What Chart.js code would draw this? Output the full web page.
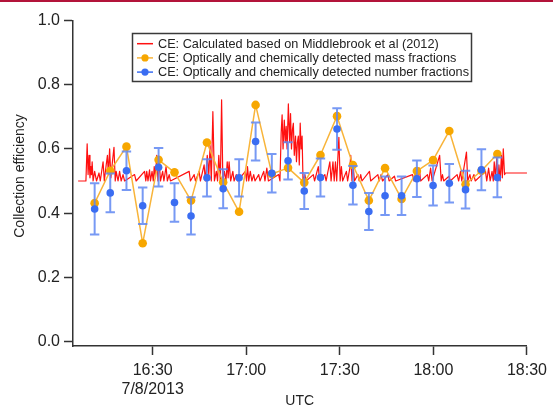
<!DOCTYPE html>
<html>
<head>
<meta charset="utf-8">
<script src="https://cdn.jsdelivr.net/npm/chart.js@4/dist/chart.umd.min.js"></script>
<style>
  html, body { margin:0; padding:0; background:#fff; }
  #wrap { position:relative; width:553px; height:406px; overflow:hidden; }
  #topRule { position:absolute; left:0; top:0; width:553px; height:2px; background:#b3143a; }
  #ce { position:absolute; left:0; top:0; }
</style>
</head>
<body>
<div id="wrap">
  <canvas id="ce" width="553" height="406"></canvas>
  <div id="topRule"></div>
</div>
<script>
// times are minutes after midnight UTC, 7/8/2013
const xTicks = [990, 1020, 1050, 1080, 1110];
const yTicks = [0, 0.2, 0.4, 0.6, 0.8, 1.0];

// CE calculated from Middlebrook et al (2012), high-rate trace
const redMinutes = [
  966.1, 968.6, 969.0, 969.3, 969.6, 969.9, 970.2, 970.4, 970.6, 970.9,
  971.4, 972.0, 972.8, 973.2, 974.1, 974.5, 975.1, 975.5, 975.8, 976.2,
  976.6, 977.1, 977.6, 978.0, 978.3, 978.9, 979.4, 979.9, 980.5, 981.0,
  984.2, 984.7, 987.4, 987.8, 988.1, 988.5, 989.0, 989.3, 989.8, 990.2,
  990.5, 990.9, 991.3, 991.7, 992.1, 992.5, 993.2, 993.6, 994.3, 994.7,
  995.3, 995.7, 1001.7, 1002.1, 1003.3, 1003.7, 1004.9, 1005.3, 1006.5, 1006.9,
  1007.5, 1008.0, 1008.4, 1008.8, 1009.3, 1009.8, 1010.4, 1010.8, 1011.2, 1011.7,
  1012.1, 1012.5, 1013.0, 1013.5, 1013.9, 1014.2, 1014.5, 1015.0, 1015.7, 1016.1,
  1016.8, 1017.2, 1019.7, 1020.1, 1020.4, 1020.8, 1021.3, 1021.8, 1022.4, 1022.8,
  1024.0, 1024.4, 1025.6, 1026.0, 1026.6, 1027.1, 1030.4, 1030.8, 1031.2, 1031.5,
  1031.8, 1032.2, 1032.5, 1032.8, 1033.1, 1033.5, 1033.9, 1034.2, 1034.5, 1034.8,
  1035.1, 1035.4, 1035.8, 1036.1, 1036.4, 1036.7, 1037.0, 1037.3, 1037.6, 1037.9,
  1038.2, 1038.8, 1039.2, 1041.5, 1041.9, 1043.1, 1043.5, 1045.2, 1045.6, 1046.8,
  1047.2, 1047.8, 1048.2, 1048.6, 1049.0, 1049.7, 1050.1, 1050.5, 1050.9, 1052.1,
  1052.5, 1053.2, 1053.5, 1053.9, 1054.3, 1054.7, 1055.8, 1056.2, 1056.7, 1057.1,
  1059.5, 1059.9, 1062.2, 1062.6, 1063.2, 1063.7, 1065.4, 1065.8, 1067.5, 1067.9,
  1073.3, 1073.8, 1074.4, 1074.8, 1075.5, 1075.9, 1078.1, 1078.5, 1079.1, 1079.6,
  1082.0, 1082.5, 1082.9, 1083.3, 1085.0, 1085.4, 1087.6, 1088.1, 1088.7, 1089.1,
  1090.6, 1091.0, 1091.7, 1092.1, 1093.0, 1093.4, 1096.7, 1097.1, 1097.7, 1098.2,
  1098.8, 1099.2, 1099.5, 1099.9, 1100.3, 1100.7, 1101.0, 1101.4, 1101.8, 1102.1,
  1102.4, 1102.8, 1103.1, 1110.0
];
const redCE = [
  0.5, 0.5, 0.616, 0.52, 0.58, 0.51, 0.545, 0.52, 0.56, 0.5,
  0.53, 0.5, 0.525, 0.5, 0.56, 0.5, 0.55, 0.58, 0.52, 0.6,
  0.51, 0.56, 0.605, 0.5, 0.53, 0.5, 0.53, 0.5, 0.52, 0.5,
  0.52, 0.5, 0.53, 0.5, 0.53, 0.5, 0.535, 0.5, 0.53, 0.5,
  0.545, 0.51, 0.58, 0.5, 0.56, 0.5, 0.53, 0.5, 0.545, 0.5,
  0.52, 0.5, 0.53, 0.5, 0.52, 0.5, 0.53, 0.5, 0.55, 0.5,
  0.58, 0.52, 0.61, 0.5, 0.716, 0.5, 0.53, 0.5, 0.58, 0.5,
  0.753, 0.5, 0.53, 0.5, 0.56, 0.51, 0.56, 0.5, 0.53, 0.5,
  0.52, 0.5, 0.53, 0.5, 0.545, 0.5, 0.53, 0.5, 0.52, 0.5,
  0.52, 0.5, 0.53, 0.5, 0.54, 0.5, 0.52, 0.5, 0.65, 0.706,
  0.6, 0.69, 0.62, 0.67, 0.6, 0.74, 0.62, 0.71, 0.6, 0.66,
  0.68, 0.58, 0.64, 0.56, 0.62, 0.64, 0.55, 0.68, 0.6, 0.64,
  0.5, 0.52, 0.5, 0.52, 0.5, 0.545, 0.5, 0.52, 0.5, 0.56,
  0.5, 0.56, 0.5, 0.56, 0.5, 0.636, 0.5, 0.545, 0.5, 0.53,
  0.5, 0.54, 0.58, 0.5, 0.545, 0.5, 0.52, 0.5, 0.52, 0.5,
  0.53, 0.5, 0.52, 0.5, 0.52, 0.5, 0.52, 0.5, 0.515, 0.5,
  0.52, 0.5, 0.53, 0.5, 0.54, 0.5, 0.52, 0.5, 0.54, 0.5,
  0.58, 0.5, 0.52, 0.5, 0.515, 0.5, 0.52, 0.5, 0.53, 0.5,
  0.59, 0.5, 0.52, 0.5, 0.52, 0.5, 0.53, 0.5, 0.54, 0.5,
  0.53, 0.5, 0.56, 0.51, 0.57, 0.5, 0.55, 0.5, 0.58, 0.51,
  0.6, 0.52, 0.525, 0.525
];

// optically + chemically detected samples
const sampleMinutes = [
  971.4, 976.4, 981.6, 986.8, 991.9, 997.0, 1002.3, 1007.4, 1012.6, 1017.7,
  1023.0, 1028.2, 1033.4, 1038.6, 1043.8, 1049.1, 1054.2, 1059.3, 1064.5, 1069.8,
  1074.7, 1079.9, 1085.1, 1090.3, 1095.4, 1100.5
];
const massCE = [
  0.431, 0.532, 0.607, 0.306, 0.566, 0.527, 0.439, 0.620, 0.496, 0.404,
  0.737, 0.522, 0.541, 0.495, 0.581, 0.702, 0.550, 0.439, 0.540, 0.444,
  0.531, 0.565, 0.656, 0.490, 0.532, 0.584
];
const numberCE = [
  0.413, 0.463, 0.532, 0.423, 0.543, 0.433, 0.391, 0.510, 0.476, 0.510,
  0.623, 0.524, 0.563, 0.469, 0.511, 0.662, 0.487, 0.405, 0.454, 0.454,
  0.507, 0.486, 0.493, 0.473, 0.535, 0.511
];
const numberErr = [
  0.080, 0.060, 0.060, 0.057, 0.060, 0.060, 0.058, 0.058, 0.061, 0.058,
  0.059, 0.060, 0.058, 0.056, 0.059, 0.065, 0.060, 0.058, 0.060, 0.060,
  0.057, 0.062, 0.060, 0.059, 0.064, 0.062
];

const seriesNames = [
  'CE: Calculated based on Middlebrook et al (2012)',
  'CE: Optically and chemically detected mass fractions',
  'CE: Optically and chemically detected number fractions'
];

const RED = '#ff1010', ORANGE = '#f7a700', ORANGE_LINE = '#f8b43a', BLUE = '#3a6df2', ERR = 'rgba(95,135,242,0.85)';
const AXIS = '#333';
const FONT = "'Liberation Sans', Arial, Helvetica, sans-serif";
Chart.defaults.font.family = FONT;

function hhmm(m){
  const h = Math.floor(m/60), mm = Math.round(m - h*60);
  return h + ':' + String(mm).padStart(2,'0');
}

// vertical error bars on the number-fraction points
const errorBars = {
  id:'errorBars',
  beforeDatasetDraw(chart, args){
    if(args.index !== 2) return;
    const {ctx, scales:{x, y}} = chart;
    ctx.save();
    ctx.strokeStyle = ERR; ctx.lineWidth = 2;
    sampleMinutes.forEach((t,i)=>{
      const px = x.getPixelForValue(t);
      const hi = y.getPixelForValue(numberCE[i] + numberErr[i]);
      const lo = y.getPixelForValue(numberCE[i] - numberErr[i]);
      ctx.beginPath();
      ctx.moveTo(px, hi); ctx.lineTo(px, lo);
      ctx.moveTo(px-4.7, hi); ctx.lineTo(px+4.7, hi);
      ctx.moveTo(px-4.7, lo); ctx.lineTo(px+4.7, lo);
      ctx.stroke();
    });
    ctx.restore();
  }
};

// boxed legend inside the plot + rotated y title
const decorations = {
  id:'decorations',
  afterDraw(chart){
    const ctx = chart.ctx;
    ctx.save();
    // legend
    const bx = 132.5, by = 33.5, bw = 339, bh = 48;
    ctx.fillStyle = '#fff'; ctx.fillRect(bx, by, bw, bh);
    ctx.strokeStyle = '#3a3a3a'; ctx.lineWidth = 1.5; ctx.strokeRect(bx, by, bw, bh);
    const rows = [43.7, 57.9, 72.1];
    const cols = [RED, ORANGE, BLUE];
    ctx.font = '12.7px ' + FONT; ctx.textBaseline = 'middle'; ctx.textAlign = 'left';
    rows.forEach((ry,i)=>{
      ctx.strokeStyle = i===1 ? ORANGE_LINE : cols[i];
      ctx.lineWidth = 1.5;
      ctx.beginPath(); ctx.moveTo(137, ry); ctx.lineTo(153, ry); ctx.stroke();
      if(i>0){
        ctx.fillStyle = cols[i];
        ctx.beginPath(); ctx.arc(145, ry, 3.6, 0, Math.PI*2); ctx.fill();
      }
      ctx.fillStyle = '#222';
      ctx.fillText(seriesNames[i], 158, ry + 0.5);
    });
    // y title
    ctx.translate(20, 176);
    ctx.rotate(-Math.PI/2);
    ctx.font = '14px ' + FONT; ctx.fillStyle = '#222'; ctx.textAlign = 'center';
    ctx.fillText('Collection efficiency', 0, 0);
    ctx.restore();
  }
};

new Chart(document.getElementById('ce'), {
  type:'line',
  data:{
    datasets:[
      {
        label: seriesNames[0],
        data: redMinutes.map((t,i)=>({x:t, y:redCE[i]})),
        borderColor: RED, borderWidth: 1.2, borderJoinStyle: 'round',
        pointRadius: 0, tension: 0, order: 3
      },
      {
        label: seriesNames[1],
        data: sampleMinutes.map((t,i)=>({x:t, y:massCE[i]})),
        borderColor: ORANGE_LINE, borderWidth: 1.5, borderJoinStyle: 'round',
        pointRadius: 4.3, pointBackgroundColor: ORANGE, pointBorderWidth: 0,
        tension: 0, order: 2
      },
      {
        label: seriesNames[2],
        data: sampleMinutes.map((t,i)=>({x:t, y:numberCE[i]})),
        showLine: false,
        pointRadius: 3.8, pointBackgroundColor: BLUE, pointBorderWidth: 0,
        order: 1
      }
    ]
  },
  options:{
    responsive:false, animation:false, devicePixelRatio:1,
    layout:{ padding:{ top:20.5, right:23, bottom:0, left:0 } },
    plugins:{ legend:{display:false}, tooltip:{enabled:false} },
    scales:{
      x:{
        type:'linear', position:'bottom', min:964.3, max:1110,
        afterBuildTicks: s => { s.ticks = xTicks.map(v=>({value:v})); },
        afterFit: s => { s.height = 60; },
        grid:{ drawOnChartArea:false, drawTicks:true, tickLength:9, tickWidth:1.5, tickColor:AXIS },
        border:{ display:true, color:AXIS, width:1.5 },
        ticks:{
          autoSkip:false, maxRotation:0, padding:6, color:'#222',
          font:{ size:16, lineHeight:1.2 },
          callback: v => v === 990 ? [hhmm(v), '7/8/2013'] : hhmm(v)
        },
        title:{ display:true, text:'UTC', color:'#222', font:{ size:14, lineHeight:1 }, padding:{ top:0, bottom:-2 } }
      },
      y:{
        position:'left', min:-0.014, max:1.0,
        afterBuildTicks: s => { s.ticks = yTicks.map(v=>({value:v})); },
        afterFit: s => { s.width = 72.5; },
        grid:{ drawOnChartArea:false, drawTicks:true, tickLength:8.5, tickWidth:1.5, tickColor:AXIS },
        border:{ display:true, color:AXIS, width:1.5 },
        ticks:{ padding:4, color:'#222', font:{ size:16 }, callback: v => v.toFixed(1) }
      }
    }
  },
  plugins:[errorBars, decorations]
});
</script>
</body>
</html>
